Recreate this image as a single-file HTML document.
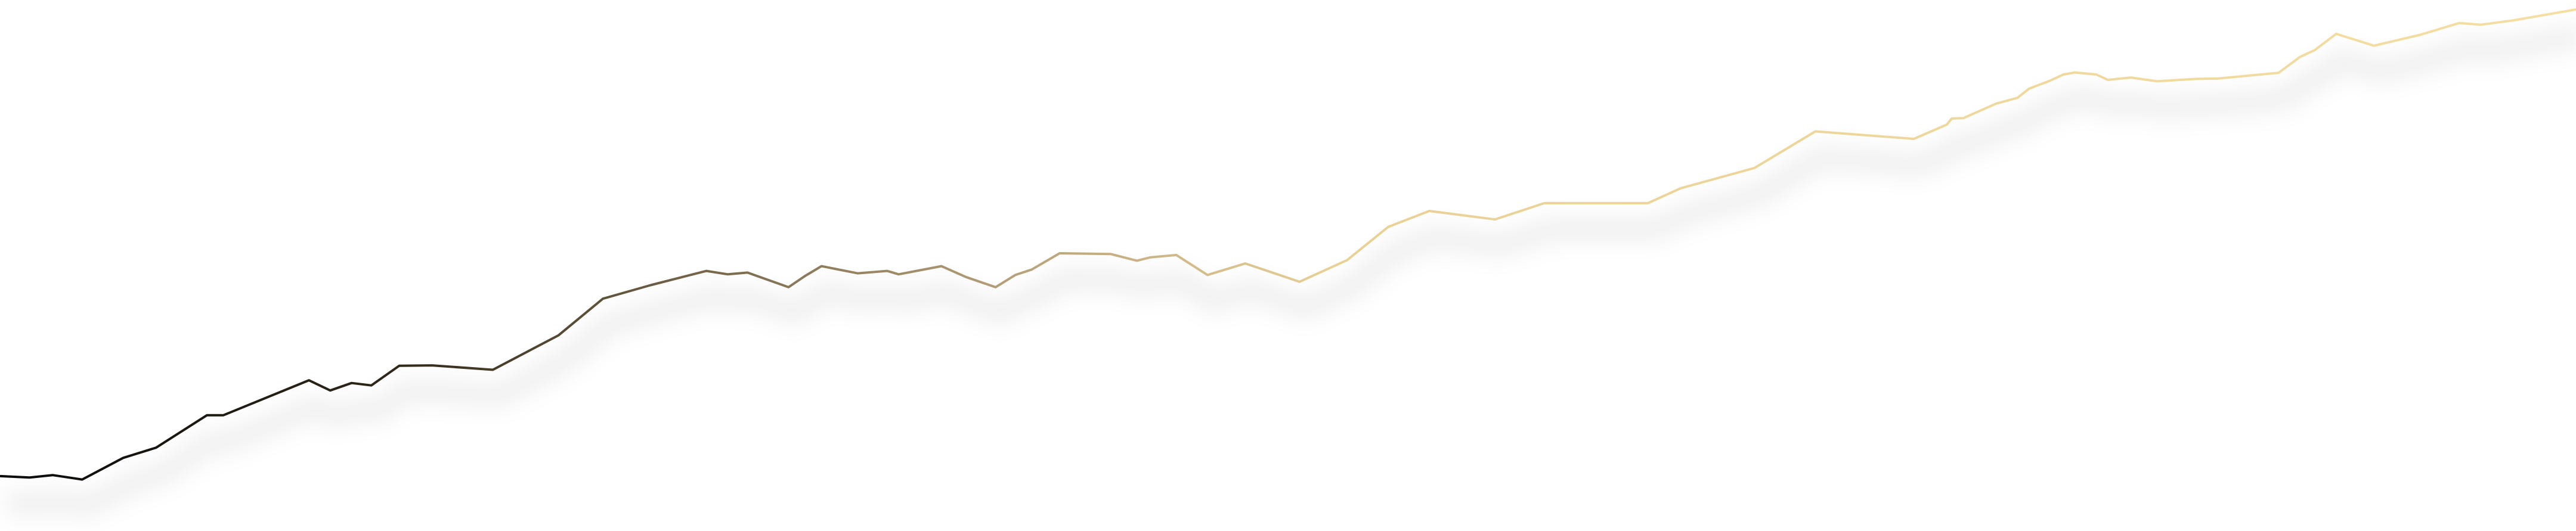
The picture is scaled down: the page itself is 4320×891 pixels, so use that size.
<!DOCTYPE html>
<html><head><meta charset="utf-8"><style>
html,body{margin:0;padding:0;background:#fff;}
svg{display:block;}
</style></head><body>
<svg id="chart" width="4320" height="891" viewBox="0 0 4320 891" xmlns="http://www.w3.org/2000/svg">
<defs>
<linearGradient id="lg" gradientUnits="userSpaceOnUse" x1="0" y1="0" x2="4320" y2="0">
<stop offset="0" stop-color="#0a0a0a"/>
<stop offset="0.15" stop-color="#2e2618"/>
<stop offset="0.28" stop-color="#7a6a4e"/>
<stop offset="0.4" stop-color="#b9a47c"/>
<stop offset="0.52" stop-color="#e9d196"/>
<stop offset="1" stop-color="#f5dea2"/>
</linearGradient>
<filter id="blur" x="-5%" y="-50%" width="110%" height="200%"><feGaussianBlur stdDeviation="18"/></filter>
</defs>
<g id="shadow-layer"></g>
<g id="line-layer"></g>
</svg>
<script>
const xs = [0,18,32,50,75,95,126,136,188,201,214,226,243,263,300,340,367,396,430,443,455,480,490,500,522,540,547,573,588,606,618,628,645,676,692,700,716,735,758,791,820,845,870,910,940,1003,1023,1068,1105,1165,1185,1188,1195,1215,1228,1235,1248,1256,1263,1276,1283,1297,1313,1337,1350,1387,1400,1409,1422,1445,1473,1497,1510,1530,1568];
const values = [162,158,165,152,216,246,342,342,445,415,437,430,488,489,476,578,686,726,768,758,763,720,753,782,761,768,758,782,750,720,756,772,820,818,798,808,815,756,790,736,800,898,945,920,968,968,1012,1072,1180,1158,1200,1218,1219,1262,1279,1306,1330,1348,1354,1348,1332,1339,1328,1335,1336,1353,1400,1420,1468,1433,1465,1500,1495,1508,1540];
const X = v => v * 4320 / 1568;
const Y = v => (1568 - v) * 891 / 1568;
let d = '';
for (let i = 0; i < xs.length; i++) d += (i ? 'L' : 'M') + X(xs[i]).toFixed(1) + ',' + Y(values[i]).toFixed(1);
const ns = 'http://www.w3.org/2000/svg';
const sh = document.createElementNS(ns, 'path');


sh.setAttribute('d', d);
sh.setAttribute('fill', 'none');
sh.setAttribute('stroke', '#000');
sh.setAttribute('stroke-opacity', '0.06');
sh.setAttribute('stroke-width', '40');
sh.setAttribute('stroke-linejoin', 'round');
sh.setAttribute('transform', 'translate(10,44)');
sh.setAttribute('filter', 'url(#blur)');
document.getElementById('shadow-layer').appendChild(sh);
const ln = document.createElementNS(ns, 'path');


ln.setAttribute('d', d);
ln.setAttribute('fill', 'none');
ln.setAttribute('stroke', 'url(#lg)');
ln.setAttribute('stroke-width', '4');
ln.setAttribute('stroke-linejoin', 'round');
document.getElementById('line-layer').appendChild(ln);
</script>
</body></html>
